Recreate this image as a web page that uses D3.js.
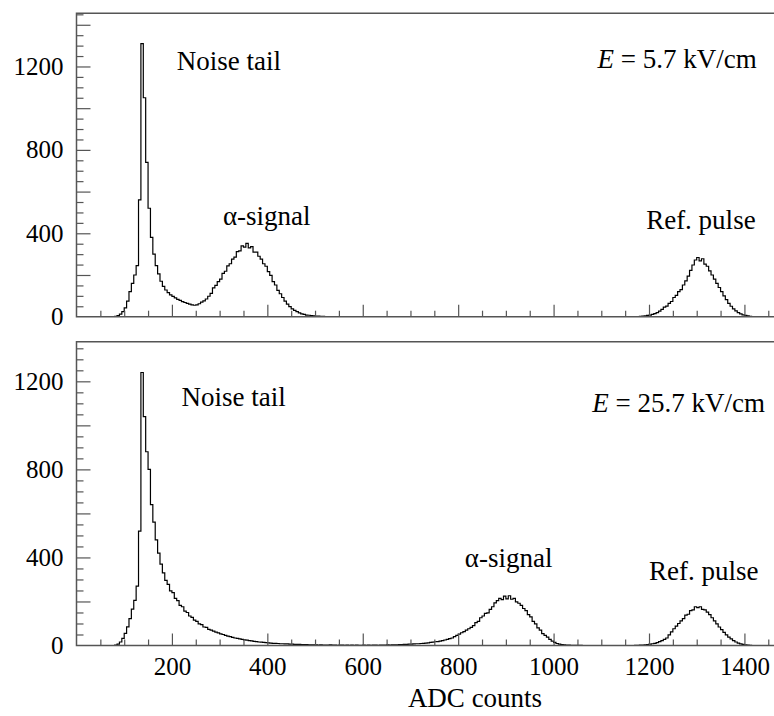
<!DOCTYPE html>
<html>
<head>
<meta charset="utf-8">
<script src="https://cdn.jsdelivr.net/npm/d3@7/dist/d3.min.js"></script>
<style>
  html, body { margin: 0; padding: 0; background: #fff; }
</style>
</head>
<body>
<svg id="chart" width="774" height="716"></svg>
<script>
// ADC spectra, bin width in ADC counts
const binWidth = 5;

const xTickLabels = [200, 400, 600, 800, 1000, 1200, 1400];
const yTickLabels = [0, 400, 800, 1200];

// E = 5.7 kV/cm : noise tail + alpha signal region
const topNoiseStart = 80;
const topNoise = [
  2, 5, 12, 24, 42, 75, 120, 160, 200, 245,
  560, 1310, 1050, 740, 520, 380, 300, 245, 205, 170,
  145, 128, 115, 105, 97, 90, 83, 78, 72, 68,
  64, 60, 57, 55, 57, 62, 70, 76, 85, 98,
  112, 138, 150, 168, 180, 208, 218, 244, 254, 276,
  286, 312, 316, 340, 334, 352, 330, 336, 310, 310,
  290, 276, 254, 242, 216, 198, 168, 152, 126, 110,
  92, 75, 60, 48, 38, 30, 24, 18, 14, 11,
  8, 7, 5, 4, 3, 3, 2, 2, 1, 1,
  1, 1
];
// E = 5.7 kV/cm : reference pulse
const topRefStart = 1175;
const topRef = [
  1, 2, 3, 4, 6, 8, 11, 15, 20, 27,
  35, 46, 51, 64, 73, 92, 102, 120, 130, 152,
  172, 195, 222, 248, 272, 284, 268, 278, 252, 242,
  220, 200, 180, 160, 140, 120, 100, 82, 64, 50,
  38, 28, 20, 14, 9, 6, 4, 2, 1
];

// E = 25.7 kV/cm : noise tail + alpha signal region
const botNoiseStart = 80;
const botNoise = [
  2, 6, 16, 32, 55, 85, 122, 165, 205, 270,
  520, 1240, 1040, 880, 800, 640, 560, 480, 420, 370,
  330, 296, 278, 248, 240, 214, 204, 182, 176, 156,
  150, 134, 128, 115, 110, 98, 95, 84, 82, 73,
  70, 65, 61, 57, 53, 50, 46, 43, 40, 37,
  34, 32, 30, 28, 26, 24, 22, 21, 19, 18,
  16, 15, 14, 13, 12, 11, 10, 10, 9, 8,
  8, 7, 7, 6, 6, 5, 5, 5, 4, 4,
  4, 3, 3, 3, 3, 2, 3, 2, 2, 2,
  3, 2, 2, 1, 2, 2, 1, 2, 1, 2,
  1, 2, 1, 1, 2, 1, 2, 1, 2, 2,
  1, 2, 2, 2, 3, 2, 3, 3, 3, 4,
  4, 5, 5, 6, 6, 7, 8, 8, 9, 10,
  11, 12, 14, 15, 17, 18, 20, 22, 25, 28,
  31, 34, 40, 46, 52, 58, 63, 70, 76, 82,
  90, 104, 110, 126, 134, 146, 148, 164, 176, 194,
  204, 214, 208, 224, 212, 226, 210, 214, 198, 192,
  182, 168, 158, 140, 130, 110, 98, 80, 70, 54,
  46, 38, 28, 20, 14, 9, 6, 4, 3, 2,
  2, 1, 1, 1, 1, 1
];
// E = 25.7 kV/cm : reference pulse
const botRefStart = 1170;
const botRef = [
  1, 1, 2, 2, 3, 4, 6, 8, 10, 13,
  18, 22, 28, 34, 48, 62, 76, 88, 100, 112,
  122, 138, 142, 158, 162, 176, 172, 176, 164, 162,
  152, 140, 126, 112, 98, 84, 72, 60, 48, 38,
  30, 22, 16, 11, 7, 5, 3, 2, 1
];

const svg = d3.select("#chart");
const W = 774;
const left = 76.5;
const x = d3.scaleLinear().domain([0, 1462]).range([left, W]);

const axisColor = "#555";
const serif = '"Liberation Serif"';
const tickFont = 25;
const noteFont = 27;

const panels = [
  {
    y: d3.scaleLinear().domain([0, 1455]).range([316.7, 13.3]),
    segments: [[topNoiseStart, topNoise], [topRefStart, topRef]],
    showXLabels: false,
    notes: [
      { text: "Noise tail", x: 210, y: 1183 },
      { text: "\u03b1-signal", x: 307, y: 440 },
      { text: "Ref. pulse", x: 1194, y: 420 }
    ],
    field: { value: "5.7", x: 1426, y: 1193 }
  },
  {
    y: d3.scaleLinear().domain([0, 1380]).range([645.5, 341.7]),
    segments: [[botNoiseStart, botNoise], [botRefStart, botRef]],
    showXLabels: true,
    notes: [
      { text: "Noise tail", x: 220, y: 1089 },
      { text: "\u03b1-signal", x: 814, y: 357 },
      { text: "Ref. pulse", x: 1200, y: 298 }
    ],
    field: { value: "25.7", x: 1443, y: 1061 }
  }
];

panels.forEach(p => {
  const y = p.y;
  const [y0, y1] = y.range();
  const g = svg.append("g");

  // histogram: one stepped outline per populated region
  const line = d3.line()
    .x(d => x(d[0]))
    .y(d => y(d[1]))
    .curve(d3.curveStepAfter);

  p.segments.forEach(([start, counts]) => {
    const pts = [[start, 0]];
    counts.forEach((c, i) => pts.push([start + i * binWidth, c]));
    pts.push([start + counts.length * binWidth, 0]);
    g.append("path")
      .attr("d", line(pts))
      .attr("fill", "none")
      .attr("stroke", "#000")
      .attr("stroke-width", 1.2);
  });

  // x ticks, pointing into the plot
  const xMinor = d3.range(50, 1462, 50).filter(v => v % 200 !== 0);
  const xMajor = d3.range(200, 1462, 200);
  const axMinor = g.append("g").attr("transform", `translate(0,${y0})`)
    .call(d3.axisTop(x).tickValues(xMinor).tickSize(6).tickFormat(""));
  const axMajor = g.append("g").attr("transform", `translate(0,${y0})`)
    .call(d3.axisTop(x).tickValues(xMajor).tickSize(12).tickFormat(""));
  [axMinor, axMajor].forEach(a => {
    a.select(".domain").remove();
    a.selectAll("line").attr("stroke", axisColor).attr("stroke-width", 1.2);
  });

  if (p.showXLabels) {
    const axLab = g.append("g").attr("transform", `translate(0,${y0})`)
      .call(d3.axisBottom(x).tickValues(xTickLabels).tickSize(0).tickPadding(12)
        .tickFormat(d3.format("d")));
    axLab.select(".domain").remove();
    axLab.selectAll("text")
      .style("font-family", serif)
      .style("font-size", tickFont + "px")
      .attr("fill", "#000");
  }

  // y ticks, pointing into the plot
  const yTop = y.domain()[1];
  const yMinor = d3.range(50, yTop, 50).filter(v => v % 200 !== 0);
  const yMajor = d3.range(200, yTop, 200);
  const ayMinor = g.append("g").attr("transform", `translate(${left},0)`)
    .call(d3.axisRight(y).tickValues(yMinor).tickSize(7).tickFormat(""));
  const ayMajor = g.append("g").attr("transform", `translate(${left},0)`)
    .call(d3.axisRight(y).tickValues(yMajor).tickSize(14).tickFormat(""));
  [ayMinor, ayMajor].forEach(a => {
    a.select(".domain").remove();
    a.selectAll("line").attr("stroke", axisColor).attr("stroke-width", 1.2);
  });
  const ayLab = g.append("g").attr("transform", `translate(${left},0)`)
    .call(d3.axisLeft(y).tickValues(yTickLabels).tickSize(0).tickPadding(13)
      .tickFormat(d3.format("d")));
  ayLab.select(".domain").remove();
  ayLab.selectAll("text")
    .style("font-family", serif)
    .style("font-size", tickFont + "px")
    .attr("fill", "#000");

  // frame: left, top, bottom
  g.append("path")
    .attr("d", `M${W},${y1}H${left}V${y0}H${W}`)
    .attr("fill", "none")
    .attr("stroke", axisColor)
    .attr("stroke-width", 1.5);

  // annotations
  p.notes.forEach(n => {
    g.append("text")
      .attr("x", x(n.x)).attr("y", y(n.y))
      .style("font-family", serif)
      .style("font-size", noteFont + "px")
      .attr("fill", "#000")
      .text(n.text);
  });
  const f = g.append("text")
    .attr("x", x(p.field.x)).attr("y", y(p.field.y))
    .attr("text-anchor", "end")
    .style("font-family", serif)
    .style("font-size", noteFont + "px")
    .attr("fill", "#000");
  f.append("tspan").style("font-style", "italic").text("E");
  f.append("tspan").text(` = ${p.field.value} kV/cm`);
});

svg.append("text")
  .attr("x", 475).attr("y", 707)
  .attr("text-anchor", "middle")
  .style("font-family", serif)
  .style("font-size", noteFont + "px")
  .attr("fill", "#000")
  .text("ADC counts");
</script>
</body>
</html>
